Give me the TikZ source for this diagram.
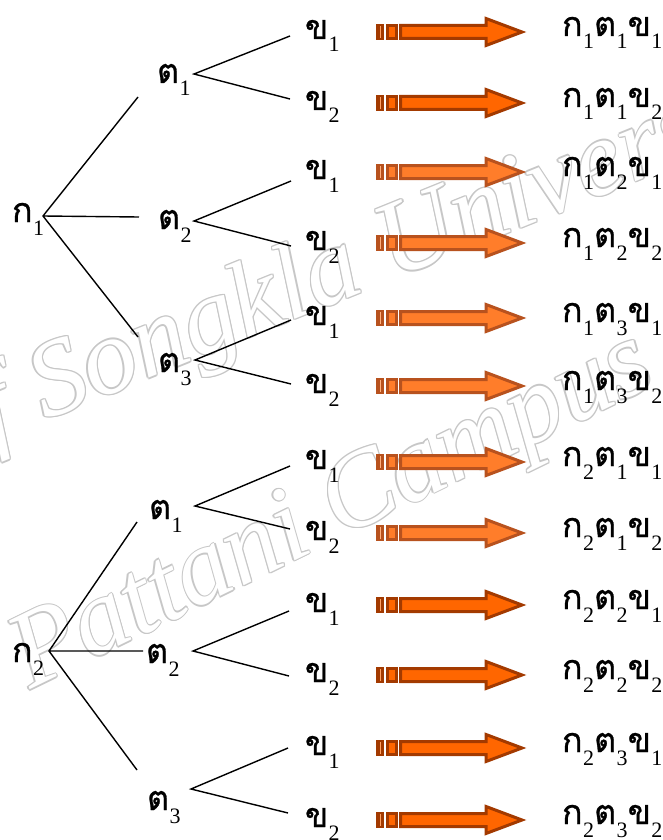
\documentclass[tikz,border=0pt]{standalone}
\usepackage{fontspec}
\setmainfont{Liberation Serif}
\newfontfamily\thaifont[Script=Thai,FakeBold=0.8]{Loma}
\usetikzlibrary{calc}
\definecolor{arrD}{HTML}{A33A00}
\definecolor{arrF}{HTML}{FF6600}
\definecolor{arrDl}{HTML}{B8521E}
\definecolor{arrFl}{HTML}{FF7D2A}
\newcommand{\THs}[2]{{\thaifont\fontsize{34}{34}\selectfont #1}\kern0.5pt\raisebox{-13pt}{\fontsize{22}{22}\selectfont #2}}
\newcommand{\wmtext}[1]{\fontsize{108}{108}\selectfont\itshape #1}
\begin{document}
\begin{tikzpicture}[x=1pt,y=-1pt,
  lbl/.style={anchor=base west,inner sep=0pt,outer sep=0pt},
  br/.style={line width=1.4pt,black},
  wm/.style={inner sep=0pt,anchor=base west},
  fatarrow/.pic={
    \fill[arrD] (0,-8) rectangle (8,8);
    \fill[arrF!60!white] (3.5,-6) rectangle (4.5,6);
    \fill[arrD] (10,-8) rectangle (22,8);
    \fill[arrF] (13,-5) rectangle (19,5);
    \draw[arrD,line width=3pt,fill=arrF,miter limit=10] (24.5,-6.5) -- (110,-6.5) -- (110,-13.5) -- (146,0) -- (110,13.5) -- (110,6.5) -- (24.5,6.5) -- cycle;
  }]
\fill[white] (0,0) rectangle (663,840);
\useasboundingbox (0,0) rectangle (663,840);
\begin{scope}
\clip (0,0) rectangle (663,840);
% watermark (outlined text)
\coordinate (w1) at (-58,462);
\coordinate (w2) at (30,690);
\foreach \a in {0,45,...,315} {
  \node[wm,rotate=22,text=black!22] at ($(w1)+(\a:1.3)$) {\wmtext{of Songkla University}};
  \node[wm,rotate=26,text=black!22] at ($(w2)+(\a:1.3)$) {\wmtext{Pattani Campus}};
}
\node[wm,rotate=22,text=white] (wmA) at (w1) {\wmtext{of Songkla University}};
\node[wm,rotate=26,text=white] (wmB) at (w2) {\wmtext{Pattani Campus}};
\end{scope}

% arrows
\foreach \y in {32,103,605,675,748,820} {\pic at (376,\y) {fatarrow};}
\foreach \y in {172,243,318,386,462,533} {\colorlet{arrD}{arrDl}\colorlet{arrF}{arrFl}\pic at (376,\y) {fatarrow};}

% first-level labels
\node[lbl] (k1) at (12,222) {\THs{ก}{1}};
\node[lbl] (k2) at (12,662) {\THs{ก}{2}};
% second level
\node[lbl] (t1) at (157,83) {\THs{ต}{1}};
\node[lbl] (t2) at (158,229) {\THs{ต}{2}};
\node[lbl] (t3) at (158,372) {\THs{ต}{3}};
\node[lbl] (u1) at (149,519) {\THs{ต}{1}};
\node[lbl] (u2) at (146,663) {\THs{ต}{2}};
\node[lbl] (u3) at (147,810) {\THs{ต}{3}};
% third level
\foreach \i/\b/\d in {1/39/1,2/110/2,3/179/1,4/250/2,5/325/1,6/393/2,7/469/1,8/540/2,9/612/1,10/682/2,11/755/1,12/827/2}
  {\node[lbl] (b\i) at (305,\b) {\THs{ข}{\d}};}
% results
\foreach \i/\b/\k/\t/\d in {1/36/1/1/1,2/107/1/1/2,3/176/1/2/1,4/247/1/2/2,5/322/1/3/1,6/390/1/3/2,7/466/2/1/1,8/537/2/1/2,9/609/2/2/1,10/679/2/2/2,11/752/2/3/1,12/824/2/3/2}
  {\node[lbl] (r\i) at (562,\b) {\THs{ก}{\k}\THs{ต}{\t}\THs{ข}{\d}};}

% branch points
\coordinate (k1o) at (43,216);
\coordinate (k1a) at (138,97);
\coordinate (k1b) at (139,217);
\coordinate (k1c) at (138,337);
\coordinate (t1o) at (194,74);
\coordinate (t1a) at (290,36);
\coordinate (t1b) at (290,99);
\coordinate (t2o) at (194,221);
\coordinate (t2a) at (291,181);
\coordinate (t2b) at (291,246);
\coordinate (t3o) at (195,360);
\coordinate (t3a) at (291,320);
\coordinate (t3b) at (291,384);
\coordinate (k2o) at (49,651);
\coordinate (k2a) at (137,522);
\coordinate (k2b) at (143,651);
\coordinate (k2c) at (137,770);
\coordinate (u1o) at (195,506);
\coordinate (u1a) at (290,466);
\coordinate (u1b) at (290,529);
\coordinate (u2o) at (193,651);
\coordinate (u2a) at (289,611);
\coordinate (u2b) at (289,676);
\coordinate (u3o) at (191,789);
\coordinate (u3a) at (288,748);
\coordinate (u3b) at (288,813);

\draw[br] (k1a) -- (k1o) -- (k1c) (k1o) -- (k1b);
\draw[br] (t1a) -- (t1o) -- (t1b);
\draw[br] (t2a) -- (t2o) -- (t2b);
\draw[br] (t3a) -- (t3o) -- (t3b);
\draw[br] (k2a) -- (k2o) -- (k2c) (k2o) -- (k2b);
\draw[br] (u1a) -- (u1o) -- (u1b);
\draw[br] (u2a) -- (u2o) -- (u2b);
\draw[br] (u3a) -- (u3o) -- (u3b);
\end{tikzpicture}
\end{document}
